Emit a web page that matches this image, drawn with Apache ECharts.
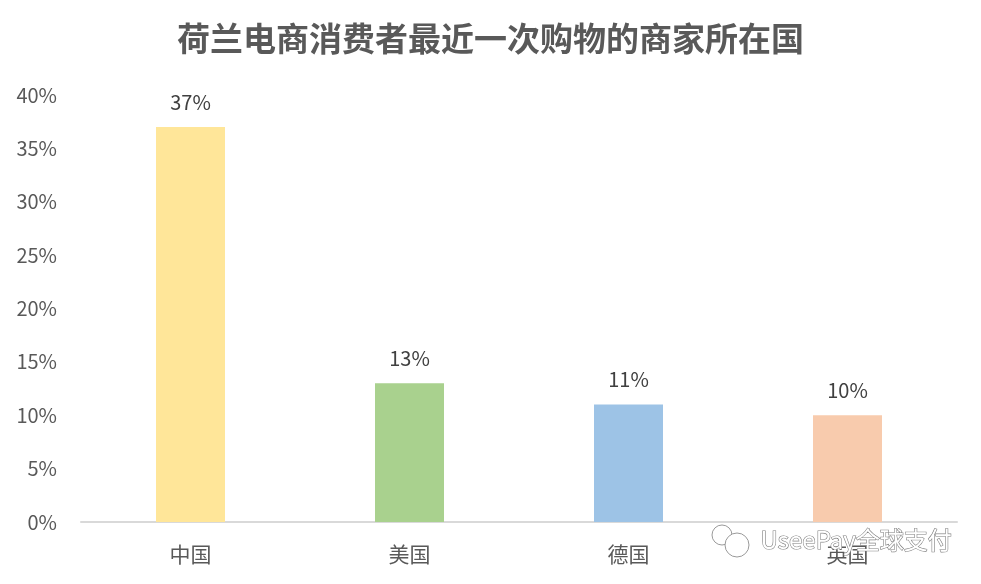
<!DOCTYPE html>
<html><head><meta charset="utf-8">
<script src="https://cdn.jsdelivr.net/npm/echarts@6/dist/echarts.min.js"></script>
<style>html,body{margin:0;padding:0;background:#fff}#c{width:981px;height:584px}</style>
</head><body><div id="c"></div>
<script>
const titleText = '荷兰电商消费者最近一次购物的商家所在国';
const categories = ['中国', '美国', '德国', '英国'];
const values = [37, 13, 11, 10];
const barColors = ['#FFE699', '#A9D18E', '#9DC3E6', '#F8CBAD'];
const yTicks = [0, 5, 10, 15, 20, 25, 30, 35, 40];

const font = '"Noto Sans CJK SC", "Noto Sans", sans-serif';
const chart = echarts.init(document.getElementById('c'));
chart.setOption({
  backgroundColor: '#fff',
  animation: false,
  title: {
    text: titleText, left: 'center', top: 17,
    textStyle: {fontFamily: font, fontSize: 33, fontWeight: 'bold', color: '#595959'}
  },
  grid: {left: 81, right: 24, top: 95, bottom: 62, containLabel: false},
  xAxis: {
    type: 'category', data: categories,
    axisLine: {lineStyle: {color: '#D9D9D9', width: 2}},
    axisTick: {show: false},
    axisLabel: {fontFamily: font, fontSize: 21, color: '#595959', margin: 22}
  },
  yAxis: {
    type: 'value', min: 0, max: 40, interval: 5,
    axisLine: {show: false}, axisTick: {show: false},
    splitLine: {show: false},
    axisLabel: {fontFamily: font, fontSize: 20, color: '#595959', margin: 24, formatter: v => v + '%'}
  },
  series: [{
    type: 'bar', barWidth: 69,
    data: values.map((v, i) => ({value: v, itemStyle: {color: barColors[i]}})),
    label: {show: true, position: 'top', distance: 15, fontFamily: font, fontSize: 20, color: '#404040', formatter: p => p.value + '%'}
  }],
  graphic: [
    {type: 'circle', shape: {cx: 722, cy: 535, r: 10}, style: {fill: '#fff', stroke: '#9a9a9a', lineWidth: 1}, z: 100},
    {type: 'circle', shape: {cx: 737, cy: 545, r: 12}, style: {fill: '#fff', stroke: '#9a9a9a', lineWidth: 1}, z: 101},
    {type: 'text', left: 760, top: 527, z: 102,
     style: {text: 'UseePay全球支付', fontFamily: font, fontSize: 24, fill: '#fff', stroke: '#7f7f7f', lineWidth: 1.2}}
  ]
});
</script></body></html>
